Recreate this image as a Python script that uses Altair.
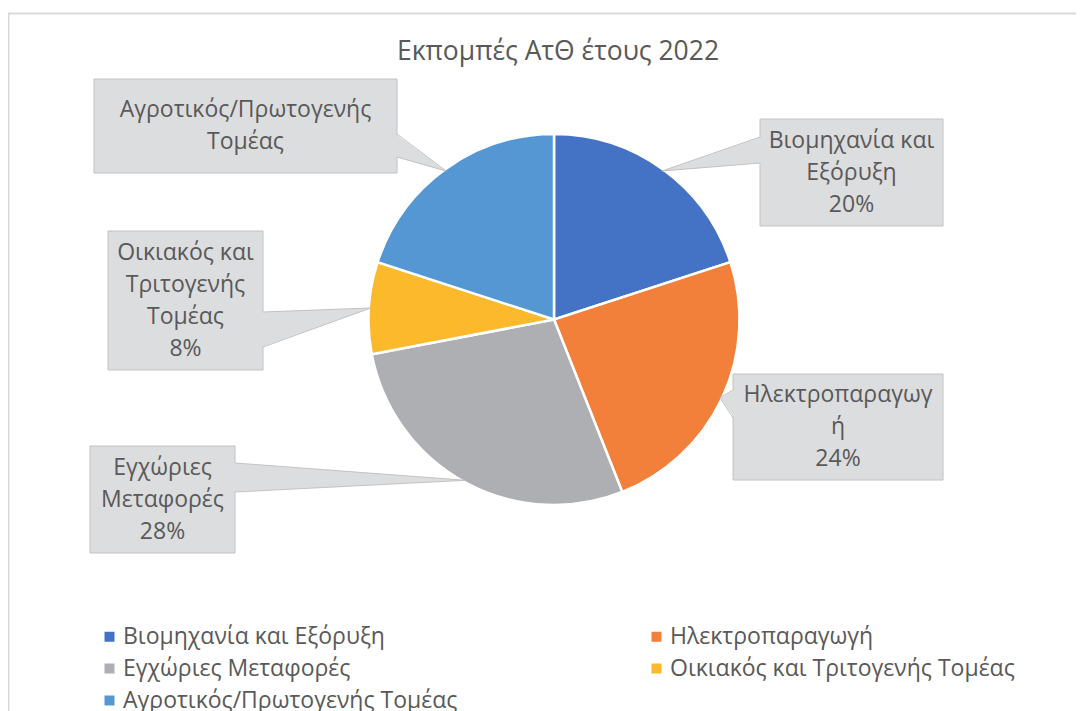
import math
import altair as alt
import pandas as pd

# ---------------- data ----------------
title_text = "Εκπομπές ΑτΘ έτους 2022"
categories = [
    "Βιομηχανία και Εξόρυξη",
    "Ηλεκτροπαραγωγή",
    "Εγχώριες Μεταφορές",
    "Οικιακός και Τριτογενής Τομέας",
    "Αγροτικός/Πρωτογενής Τομέας",
]
values = [20, 24, 28, 8, 20]
colors = ["#4472C4", "#F2803A", "#AEAFB3", "#FDB92C", "#5497D3"]
label_lines = [
    ["Βιομηχανία και", "Εξόρυξη"],
    ["Ηλεκτροπαραγωγ", "ή"],
    ["Εγχώριες", "Μεταφορές"],
    ["Οικιακός και", "Τριτογενής", "Τομέας"],
    ["Αγροτικός/Πρωτογενής", "Τομέας"],
]
show_percent = [True, True, True, True, False]

# ---------------- layout (page pixels) ----------------
OFF = 8
W, H = 1068, 703
FONT = "Open Sans"
TXT = "#595959"
FS = 23
LH = 32
PIE_CX, PIE_CY, PIE_R = 554, 319.5, 185.5
boxes = [(760, 119, 943, 226), (733, 374, 943, 480), (90, 446, 235, 553),
         (108, 231, 263, 370), (94, 79, 397, 173)]
ptr_base = [("left", 137, 163), ("left", 390, 418), ("right", 463, 492),
            ("right", 312, 347), ("right", 134, 157)]

total = sum(values)
pie_df = pd.DataFrame({"category": categories, "value": values,
                       "idx": list(range(len(values)))})

box_rows, area_rows, edge_rows, text_rows = [], [], [], []
cum = 0.0
for i, v in enumerate(values):
    mid = (cum + v / 2) / total * 2 * math.pi
    cum += v
    tx = PIE_CX + (PIE_R - 2) * math.sin(mid) - OFF
    ty = PIE_CY - (PIE_R - 2) * math.cos(mid) - OFF
    x1, y1, x2, y2 = [c - OFF for c in boxes[i]]
    box_rows.append({"x1": x1, "y1": y1, "x2": x2, "y2": y2})
    side, b1, b2 = ptr_base[i]
    bx = x1 if side == "left" else x2
    inward = 1.5 if side == "left" else -1.5
    area_rows.append({"id": i, "px": bx + inward, "py": b1 - OFF, "py2": b2 - OFF})
    area_rows.append({"id": i, "px": tx, "py": ty, "py2": ty})
    edge_rows.append({"ex": bx, "ey": b1 - OFF, "ex2": tx, "ey2": ty})
    edge_rows.append({"ex": bx, "ey": b2 - OFF, "ex2": tx, "ey2": ty})
    lines = list(label_lines[i])
    if show_percent[i]:
        lines.append(f"{round(v / total * 100)}%")
    first_y = (y1 + y2) / 2 - (len(lines) - 1) / 2 * LH
    text_rows.append({"tx": (x1 + x2) / 2, "ty": first_y,
                      "label": "\n".join(lines)})

box_df = pd.DataFrame(box_rows)
area_df = pd.DataFrame(area_rows)
edge_df = pd.DataFrame(edge_rows)
text_df = pd.DataFrame(text_rows)
frame_df = pd.DataFrame({"fx": [0, 0.5], "fy": [5.5, 5.5], "fx2": [W, 0.5], "fy2": [5.5, H]})
title_df = pd.DataFrame({"t": [title_text], "x": [558 - OFF], "y": [52 - OFF]})

color = alt.Color(
    "category:N",
    scale=alt.Scale(domain=categories, range=colors),
    sort=categories,
    legend=alt.Legend(
        title=None, orient="none", direction="horizontal",
        legendX=98 - OFF, legendY=625 - OFF,
        columns=2, columnPadding=187, rowPadding=8, padding=0,
        symbolType="square", symbolSize=100, symbolStrokeWidth=0,
        labelFont=FONT, labelFontSize=FS, labelColor=TXT, labelOffset=2,
        labelLimit=0,
    ),
)

pie = alt.Chart(pie_df).mark_arc(radius=PIE_R, stroke="white", strokeWidth=2.5).encode(
    theta=alt.Theta("value:Q", stack=True),
    color=color,
    order=alt.Order("idx:Q"),
    x=alt.value(PIE_CX - OFF),
    y=alt.value(PIE_CY - OFF),
)

frame = alt.Chart(frame_df).mark_rule(color="#d9d9d9", strokeWidth=2).encode(
    x=alt.X("fx:Q", scale=None, axis=None), y=alt.Y("fy:Q", scale=None, axis=None),
    x2="fx2:Q", y2="fy2:Q")

rects = alt.Chart(box_df).mark_rect(fill="#dcdddf", stroke="#c2c2c2", strokeWidth=1).encode(
    x=alt.X("x1:Q", scale=None, axis=None), y=alt.Y("y1:Q", scale=None, axis=None),
    x2="x2:Q", y2="y2:Q")

ptrs = alt.Chart(area_df).mark_area(fill="#dcdddf", opacity=1).encode(
    x=alt.X("px:Q", scale=None, axis=None),
    y=alt.Y("py:Q", scale=None, axis=None, stack=None),
    y2="py2:Q", detail="id:N")

edges = alt.Chart(edge_df).mark_rule(color="#c2c2c2", strokeWidth=1).encode(
    x=alt.X("ex:Q", scale=None, axis=None), y=alt.Y("ey:Q", scale=None, axis=None),
    x2="ex2:Q", y2="ey2:Q")

labels = alt.Chart(text_df).mark_text(
    font=FONT, fontSize=FS, color=TXT, align="center", baseline="middle",
    lineBreak="\n", lineHeight=LH).encode(
    x=alt.X("tx:Q", scale=None, axis=None), y=alt.Y("ty:Q", scale=None, axis=None),
    text="label:N")

title = alt.Chart(title_df).mark_text(
    font=FONT, fontSize=26.5, color=TXT, align="center", baseline="middle").encode(
    x=alt.X("x:Q", scale=None, axis=None), y=alt.Y("y:Q", scale=None, axis=None),
    text="t:N")

chart = alt.layer(frame, pie, rects, ptrs, edges, labels, title).properties(
    width=W, height=H, padding=0, autosize=alt.AutoSizeParams(type="none")
).configure_view(stroke=None)

chart.save("out.html", embed_options={"renderer": "svg", "actions": False})
